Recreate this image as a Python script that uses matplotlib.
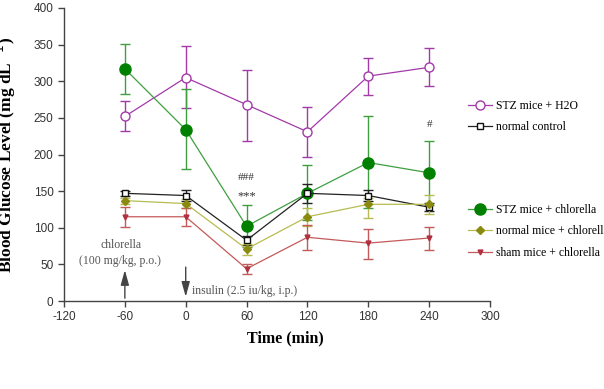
import matplotlib
matplotlib.use("Agg")
import matplotlib.pyplot as plt
from matplotlib.lines import Line2D

plt.rcParams["axes.unicode_minus"] = False

time = [-60, 0, 60, 120, 180, 240]

stz_h2o = [252, 305, 268, 231, 307, 319]
stz_h2o_lo = [232, 263, 219, 196, 281, 294]
stz_h2o_hi = [273, 348, 316, 265, 332, 345]

stz_chl = [317, 234, 102, 147, 189, 175]
stz_chl_lo = [283, 180, 74, 110, 127, 131]
stz_chl_hi = [351, 289, 131, 186, 252, 219]

normal_ctrl = [147, 144, 83, 147, 144, 128]
normal_ctrl_lo = [144, 137, 77, 134, 137, 123]
normal_ctrl_hi = [150, 151, 89, 160, 152, 134]

normal_chl = [137, 133, 71, 115, 132, 132]
normal_chl_lo = [132, 127, 63, 103, 113, 119]
normal_chl_hi = [141, 139, 78, 127, 141, 145]

sham_chl = [115, 115, 44, 87, 79, 86]
sham_chl_lo = [101, 103, 37, 70, 57, 69]
sham_chl_hi = [128, 127, 50, 104, 98, 101]

labels_top = ["STZ mice + H2O", "normal control"]
labels_bottom = ["STZ mice + chlorella", "normal mice + chlorella", "sham mice + chlorella"]

x_ticks = [-120, -60, 0, 60, 120, 180, 240, 300]
y_ticks = [0, 50, 100, 150, 200, 250, 300, 350, 400]

serif = ["Liberation Serif", "DejaVu Serif"]
sans = ["Liberation Sans", "DejaVu Sans"]

fig = plt.figure(figsize=(6.04, 3.89), dpi=100)
ax = fig.add_axes([64/604, 1-301/389, (490-64)/604, (301-8)/389])

def err(vals, lo, hi):
    return [[v - l for v, l in zip(vals, lo)], [h - v for v, h in zip(vals, hi)]]

styles = [
    (stz_h2o, stz_h2o_lo, stz_h2o_hi, dict(color="#a23aa8", marker="o", ms=6.5, mfc="white", mec="#a23aa8", mew=1.0), "#a23aa8"),
    (stz_chl, stz_chl_lo, stz_chl_hi, dict(color="#3f9f3f", marker="o", ms=8, mfc="#008000", mec="#008000"), "#3f9f3f"),
    (normal_ctrl, normal_ctrl_lo, normal_ctrl_hi, dict(color="#222222", marker="s", ms=4, mfc="white", mec="#111111", mew=1.0), "#222222"),
    (normal_chl, normal_chl_lo, normal_chl_hi, dict(color="#b8bc50", marker="D", ms=4, mfc="#8a8a10", mec="#8a8a10"), "#b8bc50"),
    (sham_chl, sham_chl_lo, sham_chl_hi, dict(color="#c45a5a", marker="v", ms=3.5, mfc="#b03040", mec="#b03040"), "#c45a5a"),
]
handles = []
for vals, lo, hi, kw, ecol in styles:
    ax.errorbar(time, vals, yerr=err(vals, lo, hi), ecolor=ecol, elinewidth=1.0,
                capsize=3.5, capthick=1.0, lw=0.9, **kw)
    handles.append(Line2D([], [], lw=0.9, **kw))

ax.set_xlim(-120, 300)
ax.set_ylim(0, 400)
ax.set_xticks(x_ticks)
ax.set_yticks(y_ticks)
for s in ["top", "right"]:
    ax.spines[s].set_visible(False)
for s in ["left", "bottom"]:
    ax.spines[s].set_color("#444444")
    ax.spines[s].set_linewidth(1.0)
ax.tick_params(direction="out", length=4, width=1.0, color="#444444",
               labelsize=8.5, labelcolor="#333333")
for lab in ax.get_xticklabels() + ax.get_yticklabels():
    lab.set_family(sans)

ax.set_xlabel("Time (min)", family=serif, fontweight="bold", fontsize=11.5)
ax.xaxis.set_label_coords(0.52, -0.10)
ax.set_ylabel("Blood Glucose Level (mg dL$^{-1}$)", family=serif, fontweight="bold",
              fontsize=12.5)
ax.yaxis.set_label_coords(-0.108, 0.5)

# annotations
ax.text(60, 168, "###", ha="center", va="center", family=serif, fontsize=8, color="#333333")
ax.text(60, 143, "***", ha="center", va="center", family=serif, fontsize=9, color="#333333")
ax.text(240, 241, "#", ha="center", va="center", family=serif, fontsize=8, color="#333333")

ax.annotate("", xy=(-60, 46), xytext=(-60, 0),
            arrowprops=dict(arrowstyle="-|>,head_length=0.9,head_width=0.25", color="#444444", lw=1.0))
ax.annotate("", xy=(0, 2), xytext=(0, 50),
            arrowprops=dict(arrowstyle="-|>,head_length=0.9,head_width=0.25", color="#444444", lw=1.0))
ax.text(-64, 76, "chlorella", ha="center", va="center", family=serif, fontsize=8.5, color="#555555")
ax.text(-65, 55, "(100 mg/kg, p.o.)", ha="center", va="center", family=serif, fontsize=8.5, color="#555555")
ax.text(6, 14, "insulin (2.5 iu/kg, i.p.)", ha="left", va="center", family=serif, fontsize=8.5, color="#555555")

leg_kw = dict(frameon=False, prop={"family": serif, "size": 8.5}, handlelength=2.0,
              handletextpad=0.4, labelspacing=0.8, borderaxespad=0, borderpad=0)
leg1 = fig.legend(handles[:1] + handles[2:3], labels_top, loc="upper left",
                  bbox_to_anchor=(468/604, 1-100/389), **leg_kw)
leg2 = fig.legend([handles[1], handles[3], handles[4]], labels_bottom, loc="upper left",
                  bbox_to_anchor=(468/604, 1-204/389), **leg_kw)

fig.savefig("out.png", dpi=100)
